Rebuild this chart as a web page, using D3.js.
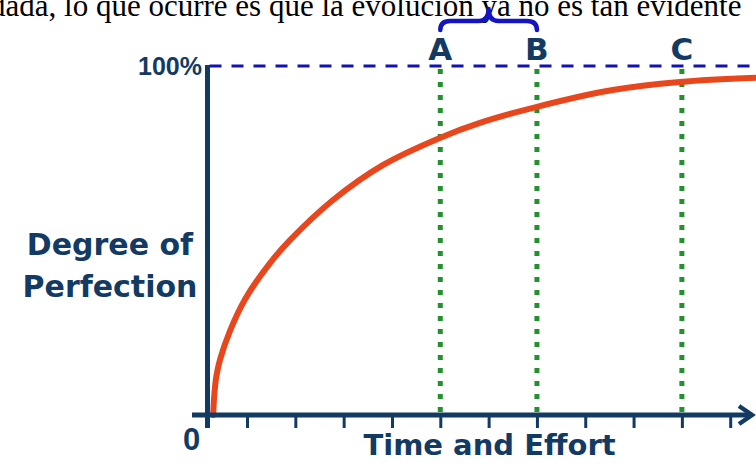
<!DOCTYPE html>
<html>
<head>
<meta charset="utf-8">
<script src="https://cdn.jsdelivr.net/npm/d3@7"></script>
<style>
  html, body { margin: 0; padding: 0; background: #ffffff; overflow: hidden; }
  svg { display: block; }
</style>
</head>
<body>
<script>
// ---- data ----
const curveX = [0.30, 0.32, 0.36, 0.44, 0.65, 0.96, 1.48, 1.89, 2.78, 3.81, 4.99, 5.82, 7.00, 8.57, 9.96, 11.53];
const curveY = [0, 5.2, 10.6, 15.8, 24.2, 33.2, 43.6, 50.1, 61.6, 71.6, 79.4, 83.7, 88.3, 93.1, 95.4, 96.6];
const markerLabels = ["A", "B", "C"];
const markerX = [5, 7, 10];
const xTickValues = [1, 2, 3, 4, 5, 6, 7, 8, 9, 10, 11];
const yMaxLabel = "100%";
const originLabel = "0";
const yTitle = ["Degree of", "Perfection"];
const xTitle = "Time and Effort";
const headerText = "dada, lo que ocurre es que la evolución ya no es tan evidente";

// ---- setup ----
const W = 756, H = 465;
const navy = "#123a63";
const svg = d3.select("body").append("svg").attr("width", W).attr("height", H);

const x = d3.scaleLinear().domain([0, 11]).range([198.7, 730.2]);
const y = d3.scaleLinear().domain([0, 100]).range([415, 66]);
const axisX0 = 207.5;   // position of vertical axis
const boldFont = "'DejaVu Sans', sans-serif";

// header text (clipped at top, as in the source image)
svg.append("text")
  .attr("x", -10).attr("y", 15.5)
  .attr("font-family", "'Liberation Serif', 'Times New Roman', serif")
  .attr("font-size", 31)
  .attr("fill", "#000")
  .text(headerText);

// dashed 100% line
svg.append("line")
  .attr("x1", axisX0 + 2).attr("x2", W)
  .attr("y1", y(100)).attr("y2", y(100))
  .attr("stroke", "#1212b4").attr("stroke-width", 3)
  .attr("stroke-dasharray", "12 10");

// green dotted marker lines
svg.selectAll("line.marker").data(markerX).join("line")
  .attr("class", "marker")
  .attr("x1", d => x(d)).attr("x2", d => x(d))
  .attr("y1", y(100) + 3).attr("y2", y(0) - 2)
  .attr("stroke", "#24902f").attr("stroke-width", 5)
  .attr("stroke-dasharray", "5 8");

// marker labels
svg.selectAll("text.mlabel").data(markerLabels).join("text")
  .attr("class", "mlabel")
  .attr("x", (d, i) => x(markerX[i])).attr("y", 60)
  .attr("text-anchor", "middle")
  .attr("font-family", boldFont).attr("font-weight", "bold")
  .attr("font-size", 31).attr("fill", navy)
  .text(d => d);

// brace between A and B
{
  const xa = x(markerX[0]), xb = x(markerX[1]), xm = (xa + xb) / 2;
  const yb = 30, yh = 21, yt = 9, r = 10;
  const p = `M${xa},${yb} Q${xa},${yh} ${xa + r},${yh} L${xm - r},${yh} Q${xm},${yh} ${xm},${yt} ` +
            `Q${xm},${yh} ${xm + r},${yh} L${xb - r},${yh} Q${xb},${yh} ${xb},${yb}`;
  svg.append("path").attr("d", p)
    .attr("fill", "none").attr("stroke", "#1414c0").attr("stroke-width", 4.5)
    .attr("stroke-linecap", "round").attr("stroke-linejoin", "round");
}

// curve
const pts = curveX.map((v, i) => [v, curveY[i]]);
svg.append("path")
  .datum(pts)
  .attr("fill", "none")
  .attr("stroke", "#e8461c").attr("stroke-width", 6)
  .attr("stroke-linecap", "round")
  .attr("d", d3.line().x(d => x(d[0])).y(d => y(d[1])).curve(d3.curveCatmullRom.alpha(0.5)));

// x axis ticks
const xAxis = d3.axisBottom(x).tickValues(xTickValues).tickSize(13).tickFormat("");
const gx = svg.append("g").attr("transform", `translate(0,${y(0)})`).call(xAxis);
gx.select(".domain").remove();
gx.selectAll(".tick line").attr("stroke", navy).attr("stroke-width", 3);

// x axis line
svg.append("line")
  .attr("x1", 192).attr("x2", 750)
  .attr("y1", y(0)).attr("y2", y(0))
  .attr("stroke", navy).attr("stroke-width", 5);
// arrow head
svg.append("path")
  .attr("d", `M739,${y(0) - 9} L752,${y(0)} L739,${y(0) + 9}`)
  .attr("fill", "none").attr("stroke", navy).attr("stroke-width", 4.5)
  .attr("stroke-linejoin", "miter");

// y axis line
svg.append("line")
  .attr("x1", axisX0).attr("x2", axisX0)
  .attr("y1", y(100) - 1).attr("y2", 428)
  .attr("stroke", navy).attr("stroke-width", 5);

// y labels
svg.append("text")
  .attr("x", 202).attr("y", y(100) + 9)
  .attr("text-anchor", "end")
  .attr("font-family", "'Liberation Sans', Arial, sans-serif").attr("font-weight", "bold")
  .attr("font-size", 25).attr("fill", navy)
  .text(yMaxLabel);

svg.append("text")
  .attr("x", 191.5).attr("y", 450)
  .attr("text-anchor", "middle")
  .attr("font-family", "'Liberation Sans', Arial, sans-serif").attr("font-weight", "bold")
  .attr("font-size", 31).attr("fill", navy)
  .text(originLabel);

// axis titles
svg.selectAll("text.ytitle").data(yTitle).join("text")
  .attr("class", "ytitle")
  .attr("x", 110).attr("y", (d, i) => 255 + i * 42)
  .attr("text-anchor", "middle")
  .attr("font-family", boldFont).attr("font-weight", "bold")
  .attr("font-size", 30).attr("fill", navy)
  .text(d => d);

svg.append("text")
  .attr("x", 489.5).attr("y", 455)
  .attr("text-anchor", "middle")
  .attr("font-family", boldFont).attr("font-weight", "bold")
  .attr("font-size", 29).attr("fill", navy)
  .text(xTitle);
</script>
</body>
</html>
